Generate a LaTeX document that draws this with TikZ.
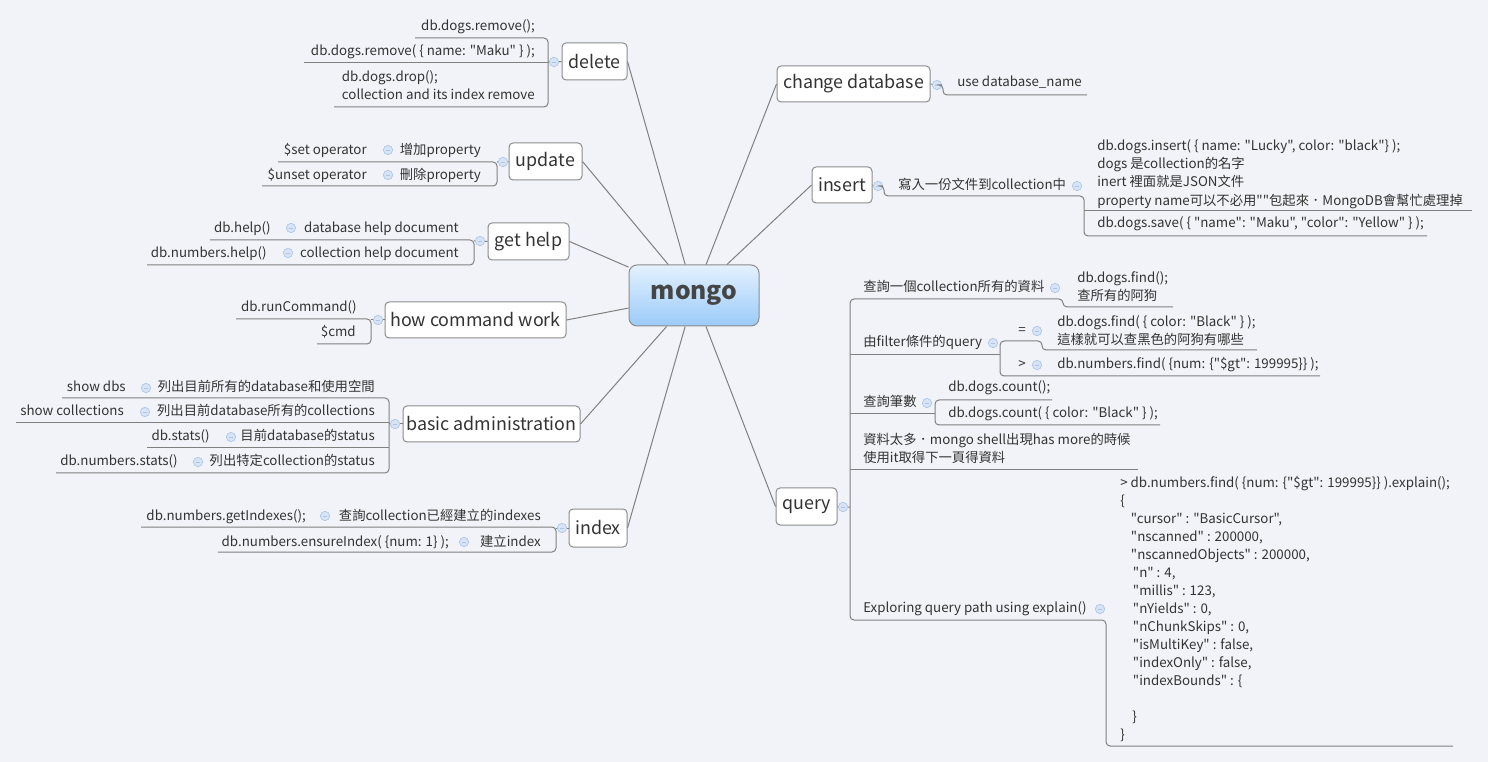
\documentclass[tikz,border=0pt]{standalone}
\usepackage{fontspec}
\setmainfont{Noto Sans CJK TC}[Ligatures=TeXOff]
\usepackage{tikz}

\begin{document}
\begin{tikzpicture}[x=0.75pt,y=-0.75pt,
  topic/.style 2 args={draw=cbox,fill=white,rounded corners=3pt,line width=0.75pt,text=ctxt,
    font=\fontsize{13.4}{16}\selectfont,minimum width=#1*0.75pt,minimum height=#2*0.75pt,inner sep=0pt},
  leaf/.style={inner sep=0pt,text=ctxt,font=\fontsize{10}{13.8}\selectfont,align=left},
  fold/.style={circle,draw=cfold,fill=cfoldf,inner sep=0pt,minimum size=7pt,line width=0.5pt,
    path picture={\draw[cfold,line width=0.6pt] ([xshift=-1.8pt]path picture bounding box.center) -- ([xshift=1.8pt]path picture bounding box.center);}},
  branch/.style={draw=cline,line width=0.75pt,rounded corners=3pt}]
\definecolor{cbg}{rgb}{0.949,0.953,0.973}
\definecolor{cline}{rgb}{0.5,0.5,0.5}
\definecolor{cbox}{rgb}{0.55,0.55,0.55}
\definecolor{ctxt}{rgb}{0.2,0.2,0.2}
\definecolor{cfold}{rgb}{0.667,0.776,0.918}
\definecolor{cfoldf}{rgb}{0.847,0.894,0.961}
\definecolor{cmtop}{rgb}{0.894,0.945,0.996}
\definecolor{cmbot}{rgb}{0.604,0.796,0.976}
\definecolor{cmongo}{rgb}{0.27,0.27,0.27}
%
\fill[cbg] (0,0) rectangle (1488,762);
%
\node[draw=cbox,line width=0.75pt,rounded corners=6pt,top color=cmtop,bottom color=cmbot,text=cmongo,
  minimum width=130*0.75pt,minimum height=61*0.75pt,font=\fontsize{18.5}{22}\selectfont\bfseries] (mongo) at (694,295.5) {mongo};
%
\node[topic={65}{37}] (delete) at (594.5,61.5) {delete};
\node[topic={73}{37}] (update) at (545.5,161.5) {update};
\node[topic={81}{37}] (gethelp) at (528.5,241.5) {get help};
\node[topic={181}{36}] (command) at (475.5,320) {how command work};
\node[topic={177}{36}] (admin) at (491.5,424) {basic administration};
\node[topic={58}{38}] (index) at (598,528) {index};
\node[topic={153}{36}] (change) at (853.5,84) {change database};
\node[topic={60}{36}] (insert) at (842,185) {insert};
\node[topic={61}{37}] (query) at (806.5,506.5) {query};
%
\draw[cline,line width=0.75pt] (mongo) -- (delete.east);
\draw[cline,line width=0.75pt] (mongo) -- (update.east);
\draw[cline,line width=0.75pt] (mongo) -- (gethelp.east);
\draw[cline,line width=0.75pt] (mongo) -- (command.east);
\draw[cline,line width=0.75pt] (mongo) -- (admin.east);
\draw[cline,line width=0.75pt] (mongo) -- (index.east);
\draw[cline,line width=0.75pt] (mongo) -- (change.west);
\draw[cline,line width=0.75pt] (mongo) -- (insert.west);
\draw[cline,line width=0.75pt] (mongo) -- (query.west);
%
% delete
\node[fold] (fDelete) at (554,62) {};
\node[leaf,anchor=base east] (delRemove) at (535,31) {db.dogs.remove();};
\node[leaf,anchor=base east] (delRemoveMaku) at (535,56) {db.dogs.remove( \{ name: "Maku" \} );};
\node[leaf,anchor=north east] (delDrop) at (535,70) {db.dogs.drop();\\collection and its index remove};
\draw[branch] (delete.west) -- (fDelete) -- (548,62);
\draw[branch] (415,38) -- (548,38) -- (548,107) -- (334,107);
\draw[branch] (548,63) -- (304,63);
%
% update
\node[fold] (fUpdate) at (503,162) {};
\node[leaf,anchor=base east] (updAdd) at (481,155) {增加property};
\node[fold] (fUpdAdd) at (388,150) {};
\node[leaf,anchor=base east] (updSet) at (367,155) {\$set operator};
\node[leaf,anchor=base east] (updDel) at (481,180) {刪除property};
\node[fold] (fUpdDel) at (388,175) {};
\node[leaf,anchor=base east] (updUnset) at (367,180) {\$unset operator};
\draw[branch] (update.west) -- (fUpdate) -- (497,162);
\draw[branch] (278,162) -- (497,162) -- (497,186) -- (262,186);
%
% get help
\node[fold] (fHelp) at (480,241) {};
\node[leaf,anchor=base east] (helpDb) at (459,233) {database help document};
\node[fold] (fHelpDb) at (291,228) {};
\node[leaf,anchor=base east] (helpDbCmd) at (271,233) {db.help()};
\node[leaf,anchor=base east] (helpColl) at (459,258) {collection help document};
\node[fold] (fHelpColl) at (288,253) {};
\node[leaf,anchor=base east] (helpCollCmd) at (267,258) {db.numbers.help()};
\draw[branch] (gethelp.west) -- (fHelp) -- (474,241);
\draw[branch] (210,240) -- (474,240) -- (474,265) -- (147,265);
%
% how command work
\node[fold] (fCommand) at (378,320) {};
\node[leaf,anchor=base east] (cmdRun) at (357,312) {db.runCommand()};
\node[leaf,anchor=base east] (cmdCmd) at (356,337) {\$cmd};
\draw[branch] (command.west) -- (fCommand) -- (371,320);
\draw[branch] (236,319) -- (371,319) -- (371,344) -- (317,344);
%
% basic administration
\node[fold] (fAdmin) at (395,424) {};
\node[leaf,anchor=base east] (admDbs) at (375,392) {列出目前所有的database和使用空間};
\node[fold] (fAdmDbs) at (146,388) {};
\node[leaf,anchor=base east] (admDbsCmd) at (126,392) {show dbs};
\node[leaf,anchor=base east] (admColl) at (375,416) {列出目前database所有的collections};
\node[fold] (fAdmColl) at (145,412) {};
\node[leaf,anchor=base east] (admCollCmd) at (124,416) {show collections};
\node[leaf,anchor=base east] (admStats) at (375,441) {目前database的status};
\node[fold] (fAdmStats) at (231,437) {};
\node[leaf,anchor=base east] (admStatsCmd) at (210,441) {db.stats()};
\node[leaf,anchor=base east] (admNum) at (375,466) {列出特定collection的status};
\node[fold] (fAdmNum) at (198,462) {};
\node[leaf,anchor=base east] (admNumCmd) at (178,466) {db.numbers.stats()};
\draw[branch] (admin.west) -- (fAdmin) -- (389,424);
\draw[branch] (62,398) -- (389,398) -- (389,473) -- (56,473);
\draw[branch] (389,423) -- (16,423);
\draw[branch] (389,448) -- (147,448);
%
% index
\node[fold] (fIndex) at (562,528) {};
\node[leaf,anchor=base east] (idxGet) at (541,520) {查詢collection已經建立的indexes};
\node[fold] (fIdxGet) at (325,516) {};
\node[leaf,anchor=base east] (idxGetCmd) at (306,520) {db.numbers.getIndexes();};
\node[leaf,anchor=base east] (idxMake) at (541,546) {建立index};
\node[fold] (fIdxMake) at (464,542) {};
\node[leaf,anchor=base east] (idxMakeCmd) at (449,546) {db.numbers.ensureIndex( \{num: 1\} );};
\draw[branch] (index.west) -- (fIndex) -- (556,528);
\draw[branch] (141,527) -- (556,527) -- (556,552) -- (218,552);
%
% change database
\node[fold] (fChange) at (937,85) {};
\node[leaf,anchor=base west] (chgUse) at (957,87) {use database\_name};
\draw[branch] (change.east) -- (fChange) -- (943,85) -- (943,95) -- (1087,95);
%
% insert
\node[fold] (fInsert) at (878,186) {};
\node[leaf,anchor=base west] (insWrite) at (898,190) {寫入一份文件到collection中};
\node[fold] (fInsWrite) at (1077,186) {};
\node[leaf,anchor=north west] (insNote) at (1097,139) {db.dogs.insert( \{ name: "Lucky", color: "black"\} );\\dogs 是collection的名字\\inert 裡面就是JSON文件\\property name可以不必用""包起來．MongoDB會幫忙處理掉};
\node[leaf,anchor=base west] (insSave) at (1097,228) {db.dogs.save( \{ "name": "Maku", "color": "Yellow" \} );};
\draw[branch] (insert.east) -- (fInsert) -- (884,186) -- (884,196) -- (1084,196) -- (1084,236) -- (1427,236);
\draw[branch] (1084,211) -- (1472,211);
%
% query
\node[fold] (fQuery) at (843,507) {};
\node[leaf,anchor=base west] (qAll) at (863,292) {查詢一個collection所有的資料};
\node[fold] (fQAll) at (1055,288) {};
\node[leaf,anchor=north west] (qAllCmd) at (1077,271) {db.dogs.find();\\查所有的阿狗};
\node[leaf,anchor=base west] (qFilter) at (863,347) {由filter條件的query};
\node[fold] (fQFilter) at (993,343) {};
\node[leaf,anchor=base west] (qEq) at (1018,335) {=};
\node[fold] (fQEq) at (1037,331) {};
\node[leaf,anchor=north west] (qEqCmd) at (1057,315) {db.dogs.find( \{ color: "Black" \} );\\這樣就可以查黑色的阿狗有哪些};
\node[leaf,anchor=base west] (qGt) at (1018,369) {>};
\node[fold] (fQGt) at (1037,365) {};
\node[leaf,anchor=base west] (qGtCmd) at (1057,369) {db.numbers.find( \{num: \{"\$gt": 199995\}\} );};
\node[leaf,anchor=base west] (qCount) at (863,407) {查詢筆數};
\node[fold] (fQCount) at (927,403) {};
\node[leaf,anchor=base west] (qCountAll) at (948,392) {db.dogs.count();};
\node[leaf,anchor=base west] (qCountBlack) at (948,418) {db.dogs.count( \{ color: "Black" \} );};
\node[leaf,anchor=north west] (qMore) at (863,433) {資料太多．mongo shell出現has more的時候\\使用it取得下一頁得資料};
\node[leaf,anchor=base west] (qExplain) at (863,612) {Exploring query path using explain()};
\node[fold] (fQExplain) at (1100,609) {};
\node[leaf,anchor=north west,font=\fontsize{10}{13.5}\selectfont] (qExplainOut) at (1120,476) {%
> db.numbers.find( \{num: \{"\$gt": 199995\}\} ).explain();\\
\{\\
\hspace*{8pt}"cursor" : "BasicCursor",\\
\hspace*{8pt}"nscanned" : 200000,\\
\hspace*{8pt}"nscannedObjects" : 200000,\\
\hspace*{9.5pt}"n" : 4,\\
\hspace*{9.5pt}"millis" : 123,\\
\hspace*{9.5pt}"nYields" : 0,\\
\hspace*{9.5pt}"nChunkSkips" : 0,\\
\hspace*{9.5pt}"isMultiKey" : false,\\
\hspace*{9.5pt}"indexOnly" : false,\\
\hspace*{9.5pt}"indexBounds" : \{\\
\mbox{}\\
\hspace*{9pt}\}\\
\}};
\draw[branch] (query.east) -- (fQuery) -- (850,507);
\draw[branch] (1173,307) -- (1063,307) -- (1063,299) -- (850,299) -- (850,620) -- (1106,620) -- (1106,746) -- (1453,746);
\draw[branch] (850,355) -- (1000,355);
\draw[branch] (1257,350) -- (1042,350) -- (1042,341) -- (1000,341) -- (1000,376) -- (1320,376);
\draw[branch] (850,414) -- (935,414);
\draw[branch] (1052,400) -- (935,400) -- (935,425) -- (1160,425);
\draw[branch] (850,470) -- (1138,470);
%
\end{tikzpicture}
\end{document}
